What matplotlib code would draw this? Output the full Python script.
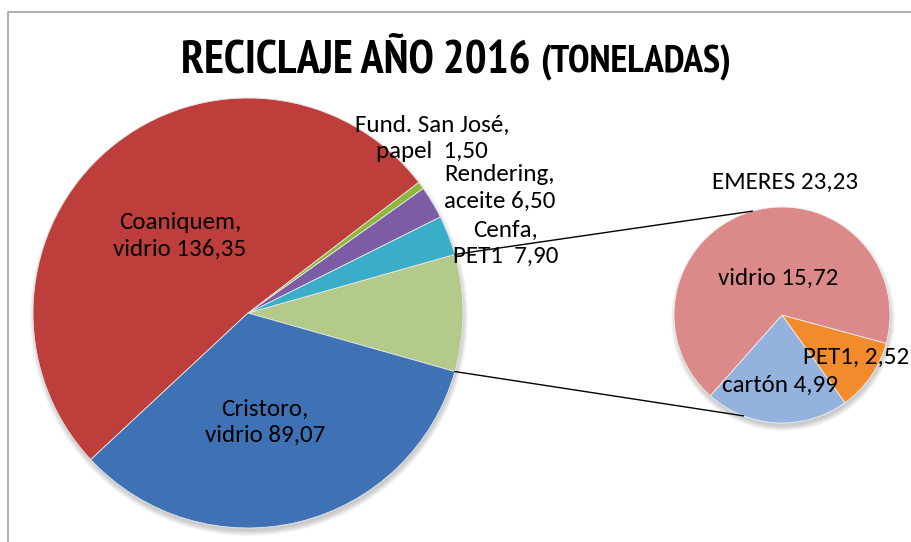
import numpy as np
import matplotlib
matplotlib.use("Agg")
import matplotlib.pyplot as plt
from matplotlib import font_manager
from matplotlib.patches import Circle

# data
main_labels = ["EMERES", "Cenfa,\nPET1  ", "Rendering,\naceite ", "Fund. San José,\npapel  ",
               "Coaniquem,\nvidrio ", "Cristoro,\nvidrio "]
main_values = [23.23, 7.90, 6.50, 1.50, 136.35, 89.07]
main_colors = ["#B3CA8A", "#3AADC9", "#7C5CA4", "#8CB83C", "#BD3E3A", "#3E72B4"]

sub_labels = ["cartón ", "PET1, ", "vidrio "]
sub_values = [4.99, 2.52, 15.72]
sub_colors = ["#93B2DD", "#F28B2B", "#DB8A89"]

W, H = 912, 542

fonts = font_manager.fontManager.ttflist
installed = {f.name for f in fonts}
bold_ok = {f.name for f in fonts if f.weight in (700, "bold")}


def pick(cands, need_bold=False):
    pool = bold_ok if need_bold else installed
    for c in cands:
        if c in pool:
            return c
    return "DejaVu Sans"


narrow = pick(["Liberation Sans Narrow", "Arimo Narrow", "PT Sans Narrow", "Archivo Narrow",
               "Roboto Condensed", "Barlow Semi Condensed"], need_bold=True)
lab_font = pick(["Carlito", "Lato"])


def fmt(v):
    return f"{v:.2f}".replace(".", ",")


def py(y):
    # pixel row from top -> data y
    return H - y


fig = plt.figure(figsize=(W / 100, H / 100), dpi=100)
ax = fig.add_axes([0, 0, 1, 1])

# frame of chart area
ax.plot([8, 8, W], [0, py(12), py(12)], color="#A0A0A0", lw=1.2)

c1 = (248, py(313))
r1 = 215
c2 = (782, py(315))
r2 = 108

# soft shadows
for c, r in [(c1, r1), (c2, r2)]:
    for k in range(6):
        ax.add_patch(Circle((c[0] + 1, c[1] - 4), r + 4 - k, color="black", alpha=0.035, lw=0))

# main pie
frac0 = main_values[0] / sum(main_values)
start = -frac0 * 360 / 2
ax.pie(main_values, colors=main_colors, center=c1, radius=r1, startangle=start,
       counterclock=True, frame=True, wedgeprops=dict(edgecolor="#e8e8e8", linewidth=0.6))

# secondary pie
ax.pie(sub_values, colors=sub_colors, center=c2, radius=r2, startangle=228.4,
       counterclock=True, frame=True, wedgeprops=dict(edgecolor="#f0f0f0", linewidth=0.6))
ax.set_xlim(0, W)
ax.set_ylim(0, H)
ax.set_aspect("equal")
ax.axis("off")

# connector lines
a_top, a_bot = np.deg2rad(-start), np.deg2rad(start)
b_top, b_bot = np.deg2rad(106), np.deg2rad(-111)
ax.plot([c1[0] + r1 * np.cos(a_top), c2[0] + r2 * np.cos(b_top)],
        [c1[1] + r1 * np.sin(a_top), c2[1] + r2 * np.sin(b_top)], color="black", lw=1)
ax.plot([c1[0] + r1 * np.cos(a_bot), c2[0] + r2 * np.cos(b_bot)],
        [c1[1] + r1 * np.sin(a_bot), c2[1] + r2 * np.sin(b_bot)], color="black", lw=1)

# labels
fs = 18 if lab_font == "Carlito" else 16
main_pos = [(785, 182), (506, 243), (500, 188), (432, 138), (180, 236), (265, 422)]
for lab, v, (x, y) in zip(main_labels, main_values, main_pos):
    txt = f"{lab} {fmt(v)}" if lab == "EMERES" else lab + fmt(v)
    ax.text(x, py(y), txt, ha="center", va="center", fontsize=fs, family=lab_font,
            linespacing=1.3, color="black")

sub_pos = [(780, 385), (856, 357), (778, 278)]
for lab, v, (x, y) in zip(sub_labels, sub_values, sub_pos):
    ax.text(x, py(y), lab + fmt(v), ha="center", va="center", fontsize=fs,
            family=lab_font, color="black")

# title
ax.text(531, py(72), "RECICLAJE AÑO 2016", ha="right", va="baseline", fontsize=33,
        fontweight="bold", family=narrow)
ax.text(540, py(72), "(TONELADAS)", ha="left", va="baseline", fontsize=28,
        fontweight="bold", family=narrow)

fig.savefig("out.png", dpi=100)
